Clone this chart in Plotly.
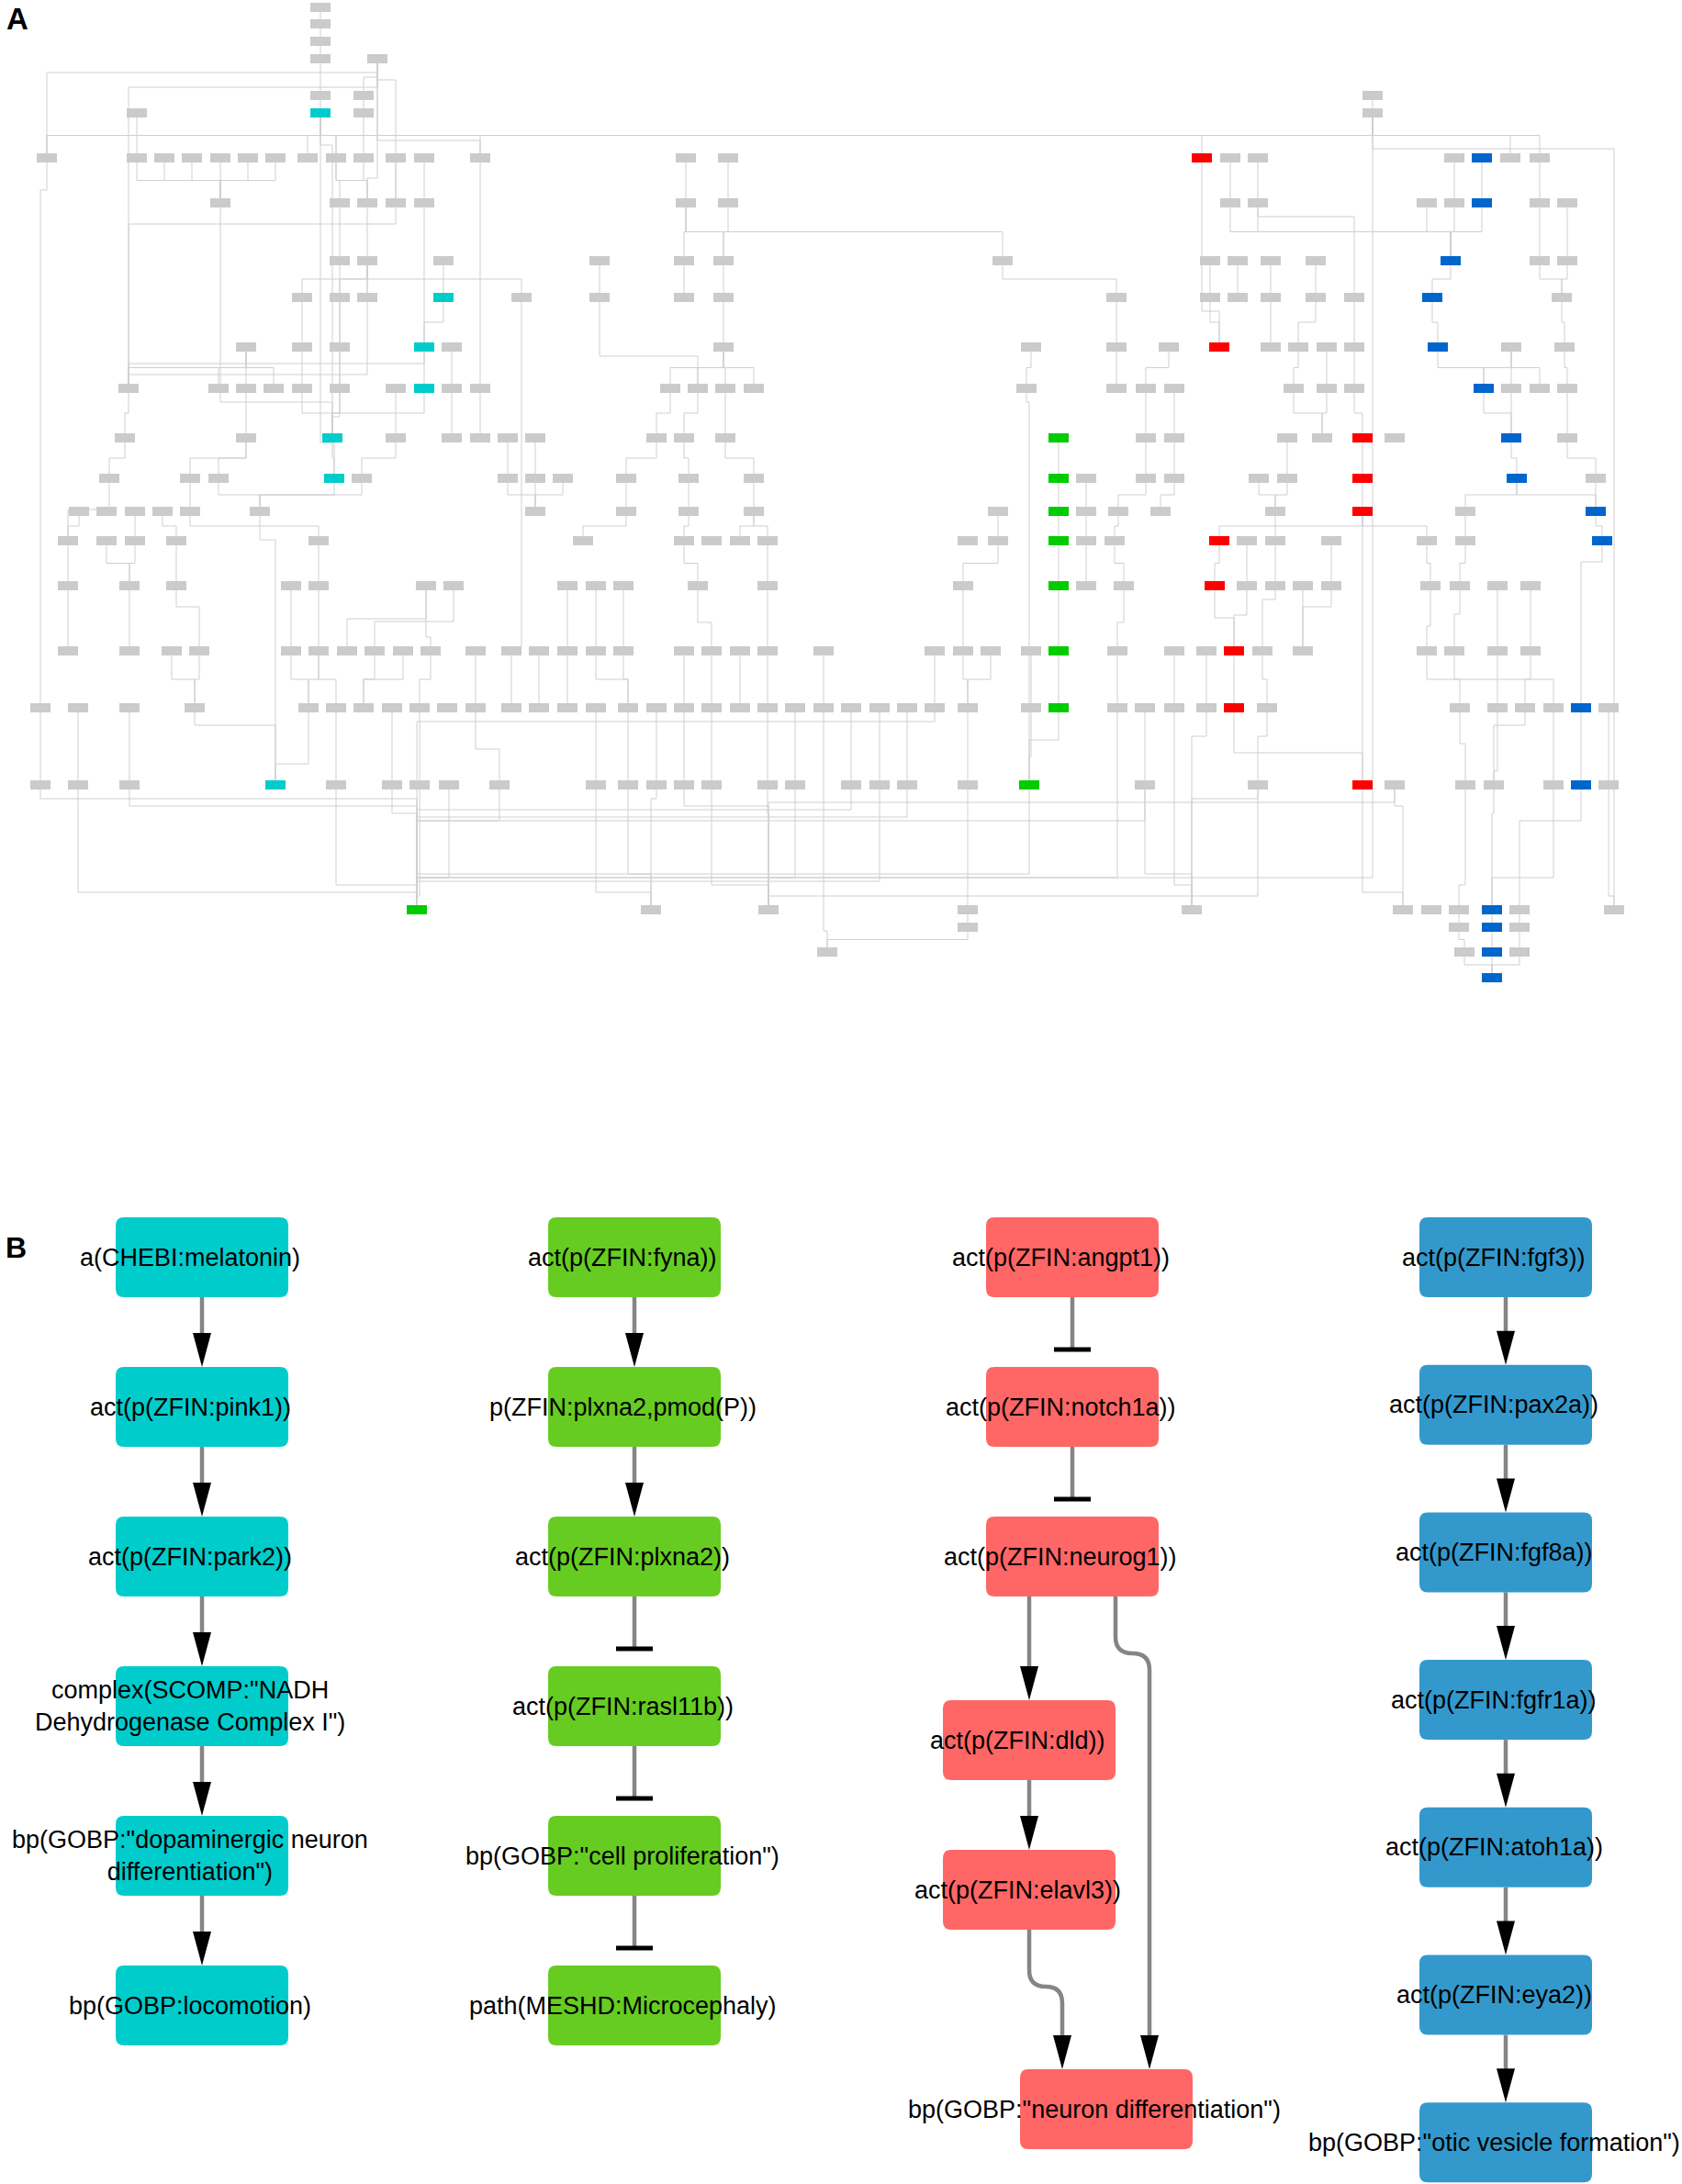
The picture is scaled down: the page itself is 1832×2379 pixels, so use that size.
import plotly.graph_objects as go

# ---------------- panel A: overview network (node centres, px) ----------------
row_y = [8, 26, 45, 64, 104, 123, 172, 221, 284, 324, 378, 423, 477, 521,
         557, 589, 638, 709, 771, 855, 991, 1010, 1037]
row_x = [
    [349],
    [349],
    [349],
    [349, 411],
    [349, 396, 1495],
    [149, 396, 1495],
    [51, 149, 179, 209, 240, 270, 300, 335, 366, 396, 431, 462, 523, 747, 793, 1340, 1370, 1584, 1645, 1677],
    [240, 370, 400, 431, 462, 747, 793, 1340, 1370, 1554, 1584, 1677, 1707],
    [370, 400, 483, 653, 745, 788, 1092, 1318, 1348, 1384, 1433, 1677, 1707],
    [329, 370, 400, 568, 653, 745, 788, 1216, 1318, 1348, 1384, 1433, 1475, 1701],
    [268, 329, 370, 492, 788, 1123, 1216, 1273, 1384, 1414, 1445, 1475, 1646, 1704],
    [140, 238, 268, 298, 329, 370, 431, 492, 523, 730, 760, 790, 821, 1118, 1216, 1248, 1279, 1409, 1445,
     1475, 1646, 1677, 1707],
    [136, 268, 431, 492, 523, 553, 583, 715, 745, 790, 1248, 1279, 1402, 1440, 1519, 1707],
    [119, 207, 238, 394, 553, 583, 613, 682, 750, 821, 1183, 1248, 1279, 1371, 1402, 1738],
    [86, 116, 147, 177, 207, 283, 583, 682, 750, 821, 1087, 1183, 1218, 1264, 1389, 1596],
    [74, 116, 147, 192, 347, 635, 745, 775, 806, 836, 1054, 1087, 1183, 1214, 1358, 1389, 1450, 1554, 1596],
    [74, 141, 192, 317, 347, 464, 494, 618, 649, 679, 760, 836, 1049, 1183, 1224, 1358, 1389, 1419, 1450,
     1558, 1590, 1631, 1667],
    [74, 141, 187, 217, 317, 347, 378, 408, 439, 469, 518, 557, 587, 618, 649, 679, 745, 775, 806, 836, 897,
     1018, 1049, 1079, 1123, 1217, 1279, 1314, 1375, 1419, 1554, 1584, 1631, 1667],
    [44, 85, 141, 212, 336, 366, 396, 427, 457, 487, 518, 557, 587, 618, 649, 684, 715, 745, 775, 806, 836,
     866, 897, 927, 958, 988, 1018, 1054, 1123, 1217, 1247, 1279, 1314, 1380, 1590, 1631, 1661, 1692, 1752],
    [44, 85, 141, 366, 427, 457, 489, 544, 649, 684, 715, 745, 775, 836, 866, 927, 958, 988, 1054, 1247,
     1370, 1519, 1596, 1627, 1692, 1752],
    [709, 837, 1054, 1298, 1528, 1559, 1589, 1655, 1758],
    [1054, 1589, 1655],
    [901, 1595, 1655],
]

cyan_nodes = [(349, 123), (483, 324), (462, 378), (462, 423), (362, 477), (364, 521), (300, 855)]
green_nodes = [(1153, 477), (1153, 521), (1153, 557), (1153, 589), (1153, 638), (1153, 709), (1153, 771),
               (1121, 855), (454, 991)]
red_nodes = [(1309, 172), (1328, 378), (1484, 477), (1484, 521), (1484, 557), (1328, 589), (1323, 638),
             (1344, 709), (1344, 771), (1484, 855)]
blue_nodes = [(1614, 172), (1614, 221), (1580, 284), (1560, 324), (1566, 378), (1616, 423), (1646, 477),
              (1652, 521), (1738, 557), (1745, 589), (1722, 771), (1722, 855), (1625, 991), (1625, 1010),
              (1625, 1037), (1625, 1065)]

# edges: (source x, source y, target x, target y)
a_edges = [
    (349, 8, 349, 26), (349, 26, 349, 45), (349, 45, 349, 64), (349, 64, 349, 104), (349, 104, 349, 123),
    (411, 64, 396, 104), (396, 104, 396, 123), (411, 64, 51, 172), (411, 64, 523, 172), (411, 64, 431, 221),
    (411, 64, 400, 221), (411, 64, 140, 423),
    (149, 123, 149, 172), (396, 123, 366, 172),
    (349, 123, 335, 172), (349, 123, 366, 172), (349, 123, 396, 172), (349, 123, 51, 172), (349, 123, 523, 172),
    (349, 123, 362, 477), (349, 123, 364, 521),
    (149, 172, 240, 221), (179, 172, 240, 221), (209, 172, 240, 221), (240, 172, 240, 221), (270, 172, 240, 221),
    (300, 172, 240, 221), (366, 172, 370, 221), (366, 172, 400, 221), (396, 172, 400, 221), (431, 172, 431, 221),
    (462, 172, 462, 221), (523, 172, 523, 423), (51, 172, 44, 771),
    (240, 221, 362, 477), (370, 221, 370, 284), (400, 221, 400, 284), (431, 221, 140, 423), (462, 221, 140, 423),
    (400, 284, 329, 324), (400, 284, 370, 324), (400, 284, 400, 324), (400, 284, 140, 423), (400, 284, 568, 324),
    (370, 284, 362, 477), (483, 284, 483, 324),
    (329, 324, 329, 378), (370, 324, 370, 378), (483, 324, 462, 378), (568, 324, 568, 709),
    (268, 378, 238, 423), (268, 378, 268, 423), (268, 378, 298, 423), (268, 378, 140, 423), (329, 378, 329, 423),
    (370, 378, 370, 423), (462, 378, 462, 423), (492, 378, 492, 423),
    (140, 423, 136, 477), (268, 423, 268, 477), (370, 423, 362, 477), (462, 423, 362, 477), (431, 423, 431, 477),
    (492, 423, 492, 477), (523, 423, 523, 477), (329, 423, 362, 477),
    (136, 477, 119, 521), (268, 477, 238, 521), (268, 477, 207, 521), (362, 477, 364, 521), (553, 477, 553, 521),
    (583, 477, 583, 521), (431, 477, 394, 521),
    (119, 521, 74, 589), (207, 521, 207, 557), (238, 521, 283, 557), (364, 521, 283, 557), (394, 521, 283, 557),
    (553, 521, 583, 557), (583, 521, 583, 557), (613, 521, 583, 557), (283, 557, 300, 855),
    (86, 557, 74, 589), (147, 557, 147, 589), (177, 557, 192, 589), (207, 557, 347, 589),
    (74, 589, 74, 638), (116, 589, 141, 638), (147, 589, 141, 638), (192, 589, 192, 638), (347, 589, 347, 638),
    (74, 638, 74, 709), (141, 638, 141, 709), (192, 638, 217, 709), (317, 638, 317, 709), (347, 638, 347, 709),
    (464, 638, 378, 709), (494, 638, 408, 709), (464, 638, 469, 709),
    (187, 709, 212, 771), (217, 709, 212, 771), (317, 709, 336, 771), (347, 709, 336, 771), (347, 709, 366, 771),
    (408, 709, 396, 771), (439, 709, 396, 771), (469, 709, 457, 771), (518, 709, 518, 771), (557, 709, 557, 771),
    (587, 709, 587, 771),
    (44, 771, 44, 855), (85, 771, 85, 855), (141, 771, 141, 855), (212, 771, 300, 855), (336, 771, 300, 855),
    (366, 771, 366, 855), (427, 771, 427, 855), (457, 771, 457, 855), (518, 771, 544, 855),
    (44, 855, 454, 991), (85, 855, 454, 991), (141, 855, 454, 991), (366, 855, 454, 991), (427, 855, 454, 991),
    (489, 855, 454, 991), (544, 855, 454, 991), (457, 855, 454, 991),
    (747, 172, 747, 221), (793, 172, 793, 221), (747, 221, 745, 284), (747, 221, 788, 284), (793, 221, 788, 284),
    (747, 221, 1092, 284),
    (653, 284, 653, 324), (745, 284, 745, 324), (788, 284, 788, 324), (1092, 284, 1216, 324),
    (788, 324, 788, 378), (653, 324, 760, 423), (788, 378, 730, 423), (788, 378, 760, 423), (788, 378, 790, 423),
    (788, 378, 821, 423), (1123, 378, 1118, 423),
    (730, 423, 715, 477), (760, 423, 745, 477), (790, 423, 790, 477), (1118, 423, 1121, 855),
    (715, 477, 682, 521), (745, 477, 750, 521), (790, 477, 821, 521), (1153, 477, 1153, 521), (1183, 521, 1183, 557),
    (682, 521, 682, 557), (750, 521, 750, 557), (821, 521, 821, 557), (1153, 521, 1153, 557),
    (682, 557, 635, 589), (750, 557, 745, 589), (821, 557, 806, 589), (821, 557, 836, 589), (1087, 557, 1087, 589),
    (1153, 557, 1153, 589), (1183, 557, 1183, 589),
    (745, 589, 760, 638), (836, 589, 836, 638), (1087, 589, 1049, 638), (1153, 589, 1153, 638),
    (1183, 589, 1183, 638),
    (618, 638, 618, 709), (649, 638, 649, 709), (679, 638, 679, 709), (760, 638, 775, 709), (836, 638, 836, 709),
    (1049, 638, 1049, 709), (1153, 638, 1153, 709),
    (618, 709, 618, 771), (649, 709, 684, 771), (679, 709, 684, 771), (745, 709, 745, 771), (775, 709, 775, 771),
    (806, 709, 806, 771), (836, 709, 836, 771), (897, 709, 897, 771), (1018, 709, 1018, 771),
    (1049, 709, 1054, 771), (1079, 709, 1054, 771), (1123, 709, 1123, 771), (1153, 709, 1153, 771),
    (649, 771, 649, 855), (684, 771, 684, 855), (715, 771, 715, 855), (745, 771, 745, 855), (775, 771, 775, 855),
    (836, 771, 836, 855), (866, 771, 866, 855), (927, 771, 927, 855), (958, 771, 958, 855), (988, 771, 988, 855),
    (1054, 771, 1054, 855), (1123, 771, 1121, 855), (1153, 771, 1121, 855),
    (684, 855, 709, 991), (715, 855, 709, 991), (649, 855, 709, 991), (745, 855, 837, 991), (775, 855, 837, 991),
    (836, 855, 837, 991), (866, 855, 837, 991), (1054, 855, 1054, 991), (1054, 991, 1054, 1010),
    (1054, 1010, 901, 1037), (897, 771, 901, 1037),
    (927, 855, 454, 991), (958, 855, 454, 991), (988, 855, 454, 991), (1121, 855, 454, 991), (1018, 771, 454, 991),
    (1495, 104, 1495, 123), (1495, 123, 1309, 172), (1495, 123, 1645, 172), (1495, 123, 1677, 172),
    (1495, 123, 454, 991), (1495, 123, 1758, 991), (1495, 123, 51, 172),
    (1340, 172, 1340, 221), (1370, 172, 1370, 221), (1614, 172, 1614, 221), (1584, 172, 1584, 221),
    (1677, 172, 1677, 221),
    (1309, 172, 1328, 378), (1340, 221, 1580, 284), (1370, 221, 1580, 284), (1554, 221, 1580, 284),
    (1584, 221, 1580, 284), (1614, 221, 1580, 284), (1677, 221, 1677, 284), (1707, 221, 1707, 284),
    (1318, 284, 1318, 324), (1348, 284, 1348, 324), (1384, 284, 1384, 324), (1433, 284, 1433, 324),
    (1580, 284, 1560, 324), (1677, 284, 1701, 324), (1707, 284, 1701, 324), (1370, 221, 1475, 324),
    (1560, 324, 1566, 378), (1318, 324, 1328, 378), (1384, 324, 1384, 378), (1433, 324, 1414, 378),
    (1475, 324, 1475, 378), (1216, 324, 1216, 378), (1701, 324, 1704, 378),
    (1566, 378, 1616, 423), (1646, 378, 1616, 423), (1646, 378, 1646, 423), (1646, 378, 1677, 423),
    (1704, 378, 1707, 423), (1216, 378, 1216, 423), (1273, 378, 1248, 423), (1414, 378, 1409, 423),
    (1445, 378, 1445, 423), (1475, 378, 1475, 423),
    (1248, 423, 1248, 477), (1279, 423, 1279, 477), (1409, 423, 1440, 477), (1445, 423, 1440, 477),
    (1475, 423, 1484, 477), (1616, 423, 1646, 477), (1646, 423, 1646, 477), (1707, 423, 1707, 477),
    (1484, 477, 1484, 521), (1248, 477, 1248, 521), (1279, 477, 1279, 521), (1402, 477, 1402, 521),
    (1646, 477, 1652, 521), (1707, 477, 1738, 521),
    (1248, 521, 1218, 557), (1279, 521, 1264, 557), (1371, 521, 1389, 557), (1402, 521, 1389, 557),
    (1484, 521, 1484, 557), (1652, 521, 1596, 557), (1738, 521, 1738, 557), (1652, 521, 1738, 557),
    (1218, 557, 1214, 589), (1484, 557, 1328, 589), (1484, 557, 1554, 589), (1389, 557, 1389, 589),
    (1596, 557, 1596, 589), (1738, 557, 1745, 589),
    (1214, 589, 1224, 638), (1328, 589, 1323, 638), (1358, 589, 1358, 638), (1389, 589, 1389, 638),
    (1450, 589, 1450, 638), (1554, 589, 1558, 638), (1596, 589, 1590, 638),
    (1224, 638, 1217, 709), (1323, 638, 1344, 709), (1358, 638, 1344, 709), (1389, 638, 1375, 709),
    (1419, 638, 1419, 709), (1450, 638, 1419, 709), (1558, 638, 1554, 709), (1590, 638, 1584, 709),
    (1631, 638, 1631, 709), (1667, 638, 1667, 709),
    (1217, 709, 1217, 771), (1279, 709, 1279, 771), (1314, 709, 1314, 771), (1344, 709, 1344, 771),
    (1375, 709, 1380, 771), (1554, 709, 1692, 771), (1584, 709, 1590, 771), (1631, 709, 1631, 771),
    (1667, 709, 1661, 771), (1745, 589, 1722, 771),
    (1247, 771, 1247, 855), (1380, 771, 1370, 855), (1344, 771, 1484, 855), (1590, 771, 1596, 855),
    (1631, 771, 1627, 855), (1661, 771, 1627, 855), (1692, 771, 1692, 855), (1722, 771, 1722, 855),
    (1752, 771, 1752, 855), (1484, 557, 1484, 855),
    (1247, 855, 1298, 991), (1370, 855, 1298, 991), (1484, 855, 1528, 991), (1519, 855, 1528, 991),
    (1596, 855, 1589, 991), (1627, 855, 1625, 991), (1692, 855, 1625, 991), (1722, 855, 1655, 991),
    (1752, 855, 1758, 991),
    (1589, 991, 1589, 1010), (1625, 991, 1625, 1010), (1655, 991, 1655, 1010), (1589, 1010, 1595, 1037),
    (1625, 1010, 1625, 1037), (1655, 1010, 1655, 1037), (1595, 1037, 1625, 1065), (1625, 1037, 1625, 1065),
    (1655, 1037, 1625, 1065),
    (1279, 771, 1298, 991), (1314, 771, 1298, 991), (1217, 771, 454, 991), (1247, 855, 454, 991),
    (1370, 855, 837, 991), (1519, 855, 837, 991),
]

# ---------------- panel B: the four highlighted pathways ----------------
cyan_labels = ['a(CHEBI:melatonin)', 'act(p(ZFIN:pink1))', 'act(p(ZFIN:park2))',
               'complex(SCOMP:"NADH<br>Dehydrogenase Complex I")',
               'bp(GOBP:"dopaminergic neuron<br>differentiation")', 'bp(GOBP:locomotion)']
cyan_rel = ['increases', 'increases', 'increases', 'increases', 'increases']

green_labels = ['act(p(ZFIN:fyna))', 'p(ZFIN:plxna2,pmod(P))', 'act(p(ZFIN:plxna2))', 'act(p(ZFIN:rasl11b))',
                'bp(GOBP:"cell proliferation")', 'path(MESHD:Microcephaly)']
green_rel = ['increases', 'increases', 'decreases', 'decreases', 'decreases']

red_labels = ['act(p(ZFIN:angpt1))', 'act(p(ZFIN:notch1a))', 'act(p(ZFIN:neurog1))', 'act(p(ZFIN:dld))',
              'act(p(ZFIN:elavl3))', 'bp(GOBP:"neuron differentiation")']
red_edges = [(0, 1, 'decreases'), (1, 2, 'decreases'), (2, 3, 'increases'), (3, 4, 'increases'),
             (4, 5, 'increases'), (2, 5, 'increases')]

blue_labels = ['act(p(ZFIN:fgf3))', 'act(p(ZFIN:pax2a))', 'act(p(ZFIN:fgf8a))', 'act(p(ZFIN:fgfr1a))',
               'act(p(ZFIN:atoh1a))', 'act(p(ZFIN:eya2))', 'bp(GOBP:"otic vesicle formation")']
blue_rel = ['increases'] * 6

# ---------------- drawing ----------------
W, H = 1832, 2379
NW, NH = 22, 10          # panel A node size
BW, BH = 188, 87         # panel B box size
EDGE_B = '#858585'
FONT = 'Liberation Sans, Arial, sans-serif'

shapes = []
annotations = []

# panel A edges as one light trace
ex, ey = [], []
for i, (sx, sy, tx, ty) in enumerate(a_edges):
    y0 = sy + NH / 2
    y3 = ty - NH / 2
    if sx == tx:
        ex += [sx, tx, None]
        ey += [y0, y3, None]
        continue
    if y3 - y0 < 60:
        yh = (y0 + y3) / 2
    elif i % 2 == 0:
        yh = y3 - 10 - (i % 7) * 4
    else:
        yh = y0 + 10 + (i % 7) * 4
    ex += [sx, sx, tx, tx, None]
    ey += [y0, yh, yh, y3, None]


def node_rect(x, y, color):
    return dict(type='rect', x0=x - NW / 2, x1=x + NW / 2, y0=y - NH / 2, y1=y + NH / 2,
                fillcolor=color, line=dict(width=0), layer='above')


for y, xs in zip(row_y, row_x):
    for x in xs:
        shapes.append(node_rect(x, y, '#cbcbcb'))
for nodes, col in [(cyan_nodes, '#00cccc'), (green_nodes, '#00cc00'), (red_nodes, '#ff0000'),
                   (blue_nodes, '#0066cc')]:
    for x, y in nodes:
        shapes.append(node_rect(x, y, col))


def rounded(cx, top, color, r=9):
    x0, x1, y0, y1 = cx - BW / 2, cx + BW / 2, top, top + BH
    p = (f'M {x0 + r},{y0} L {x1 - r},{y0} Q {x1},{y0} {x1},{y0 + r} L {x1},{y1 - r} '
         f'Q {x1},{y1} {x1 - r},{y1} L {x0 + r},{y1} Q {x0},{y1} {x0},{y1 - r} L {x0},{y0 + r} '
         f'Q {x0},{y0} {x0 + r},{y0} Z')
    return dict(type='path', path=p, fillcolor=color, line=dict(width=0), layer='above')


def arrow_head(x, tip):
    return dict(type='path', path=f'M {x - 10},{tip - 37} L {x + 10},{tip - 37} L {x},{tip} Z',
                fillcolor='black', line=dict(width=0), layer='above')


def straight(x, y_from, y_to, rel):
    if rel == 'increases':
        shapes.append(dict(type='line', x0=x, x1=x, y0=y_from, y1=y_to - 36,
                           line=dict(color=EDGE_B, width=4.5)))
        shapes.append(arrow_head(x, y_to))
    else:
        bar = y_to - 19
        shapes.append(dict(type='line', x0=x, x1=x, y0=y_from, y1=bar,
                           line=dict(color=EDGE_B, width=4.5)))
        shapes.append(dict(type='line', x0=x - 20, x1=x + 20, y0=bar, y1=bar,
                           line=dict(color='black', width=5)))


def curved(sx, sy, tx, ty):
    yb = sy + 62
    mx = (sx + tx) / 2
    p = (f'M {sx},{sy} L {sx},{yb - 18} Q {sx},{yb} {mx},{yb} Q {tx},{yb} {tx},{yb + 18} '
         f'L {tx},{ty - 36}')
    shapes.append(dict(type='path', path=p, line=dict(color=EDGE_B, width=4.5)))
    shapes.append(arrow_head(tx, ty))


def label(text, cx, top):
    annotations.append(dict(x=cx - 13, y=top + BH / 2, text=text, showarrow=False, xanchor='center',
                            yanchor='middle', align='center',
                            font=dict(family=FONT, size=27, color='black')))


# simple chains: cyan, green, blue
for labels, rels, cx, top0, step, col in [
        (cyan_labels, cyan_rel, 220, 1326, 163, '#00cccc'),
        (green_labels, green_rel, 691, 1326, 163, '#66cc22'),
        (blue_labels, blue_rel, 1640, 1326, 160.7, '#3399cc')]:
    tops = [top0 + step * i for i in range(len(labels))]
    for i, rel in enumerate(rels):
        straight(cx, tops[i] + BH, tops[i + 1], rel)
    for t, lab in zip(tops, labels):
        shapes.append(rounded(cx, t, col))
        label(lab, cx, t)

# red pathway with a branch
red_cx = [1168, 1168, 1168, 1121, 1121, 1205]
red_top = [1326, 1489, 1652, 1852, 2015, 2254]
red_port = {(2, 3): (-47, 0), (2, 5): (47, 47), (4, 5): (0, -48)}
for s, t, rel in red_edges:
    so, to = red_port.get((s, t), (0, 0))
    sx, tx = red_cx[s] + so, red_cx[t] + to
    if sx == tx:
        straight(sx, red_top[s] + BH, red_top[t], rel)
    else:
        curved(sx, red_top[s] + BH, tx, red_top[t])
for cx, t, lab in zip(red_cx, red_top, red_labels):
    shapes.append(rounded(cx, t, '#ff6666'))
    label(lab, cx, t)

# panel letters
annotations.append(dict(x=19, y=20, text='<b>A</b>', showarrow=False, xanchor='center', yanchor='middle',
                        font=dict(family=FONT, size=33, color='black')))
annotations.append(dict(x=17, y=1359, text='<b>B</b>', showarrow=False, xanchor='center', yanchor='middle',
                        font=dict(family=FONT, size=32, color='black')))

fig = go.Figure(go.Scatter(x=ex, y=ey, mode='lines', line=dict(color='#cfcfcf', width=1),
                           hoverinfo='skip', showlegend=False))
fig.update_layout(
    width=W, height=H,
    margin=dict(l=0, r=0, t=0, b=0),
    paper_bgcolor='white', plot_bgcolor='white',
    xaxis=dict(range=[0, W], visible=False, fixedrange=True),
    yaxis=dict(range=[H, 0], visible=False, fixedrange=True),
    shapes=shapes, annotations=annotations,
    showlegend=False,
)
# page body margin would push the figure 8px right/down
fig.write_html('out.html', config={'displayModeBar': False},
               post_script="document.body.style.margin='0px';")
